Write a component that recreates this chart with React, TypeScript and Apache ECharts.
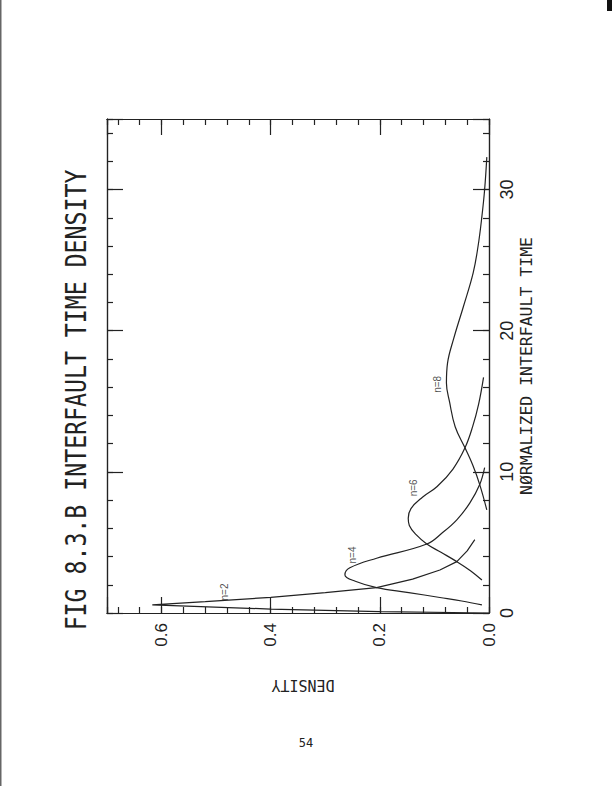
import React, { useEffect, useRef } from "react";
import * as echarts from "echarts";

// ---- data: [density, normalized interfault time] ----
const n2Time = [0, 0.1, 0.28, 0.57, 0.8, 1.11, 1.45, 1.8, 2.4, 3.05, 3.64, 4.4, 5.2];
const n2Dens = [0.0, 0.2, 0.4, 0.617, 0.52, 0.4, 0.3, 0.206, 0.14, 0.09, 0.059, 0.04, 0.026];

const n4Time = [0.57, 0.85, 1.1, 1.45, 1.8, 2.25, 2.7, 3.2, 3.88, 4.89, 5.7, 6.6, 7.8, 9.1, 10.3];
const n4Dens = [0.013, 0.05, 0.09, 0.147, 0.206, 0.245, 0.264, 0.255, 0.206, 0.114, 0.085, 0.059, 0.035, 0.017, 0.008];

const n6Time = [2.34, 3.0, 3.64, 4.3, 4.89, 5.6, 6.2, 6.71, 7.4, 8.2, 8.96, 10.2, 11.7, 13.2, 14.8, 16.7];
const n6Dens = [0.013, 0.034, 0.059, 0.088, 0.114, 0.135, 0.146, 0.148, 0.143, 0.122, 0.095, 0.066, 0.044, 0.03, 0.019, 0.01];

const n8Time = [7.3, 9.1, 10.5, 11.7, 13.2, 14.9, 16.3, 17.7, 19.4, 21.7, 24.1, 26.0, 28.1, 30.0, 32.3];
const n8Dens = [0.004, 0.017, 0.03, 0.044, 0.062, 0.072, 0.078, 0.076, 0.065, 0.047, 0.029, 0.02, 0.013, 0.008, 0.004];

const curveNames = ["n=2", "n=4", "n=6", "n=8"];
const labelDens = [0.484, 0.251, 0.139, 0.095];
const labelTime = [1.49, 4.11, 8.87, 16.2];

const densityTicks = [0, 0.2, 0.4, 0.6];
const timeTicks = [0, 10, 20, 30];

const DENS_MAX = 0.7;
const TIME_MAX = 35;

const INK = "#222";
const MONO = "'DejaVu Sans Mono', monospace";
const SANS = "'Liberation Sans', Arial, sans-serif";

function pairs(d: number[], t: number[]) {
  return t.map((tv, i) => [d[i], tv]);
}

const isOn = (v: number, list: number[]) => list.some((x) => Math.abs(x - v) < 1e-6);

export default function App() {
  const ref = useRef<HTMLDivElement>(null);

  useEffect(() => {
    if (!ref.current) return;
    const chart = echarts.init(ref.current, undefined, { renderer: "svg" });

    const axisLine = { show: true, onZero: false, lineStyle: { color: INK, width: 1.2 } };
    const mkX = (pos: string, interval: number, len: number, labels: boolean) => ({
      type: "value",
      min: 0,
      max: DENS_MAX,
      inverse: true,
      position: pos,
      offset: 0,
      interval,
      axisLine,
      splitLine: { show: false },
      axisTick: { show: true, inside: true, length: len, lineStyle: { color: INK, width: 1.2 } },
      axisLabel: labels
        ? {
            show: true,
            rotate: 90,
            margin: 10,
            color: INK,
            fontFamily: SANS,
            fontSize: 17,
            formatter: (v: number) => (isOn(v, densityTicks) ? v.toFixed(1) : ""),
          }
        : { show: false },
    });
    const mkY = (pos: string, interval: number, len: number, labels: boolean) => ({
      type: "value",
      min: 0,
      max: TIME_MAX,
      position: pos,
      offset: 0,
      interval,
      axisLine,
      splitLine: { show: false },
      axisTick: { show: true, inside: true, length: len, lineStyle: { color: INK, width: 1.2 } },
      axisLabel: labels
        ? {
            show: true,
            rotate: 90,
            margin: 9,
            color: INK,
            fontFamily: SANS,
            fontSize: 18,
            formatter: (v: number) => (isOn(v, timeTicks) ? String(v) : ""),
          }
        : { show: false },
    });

    const lineSeries = (name: string, data: number[][], smooth: number | boolean) => ({
      type: "line",
      name,
      data,
      xAxisIndex: 0,
      yAxisIndex: 0,
      smooth,
      symbol: "none",
      lineStyle: { color: INK, width: 1.2 },
      z: 3,
    });

    chart.setOption({
      animation: false,
      backgroundColor: "#ffffff",
      grid: { left: 107, right: 123, top: 119, bottom: 178, containLabel: false, outerBoundsMode: "none" },
      xAxis: [
        mkX("bottom", 0.2, 16, true),
        mkX("bottom", 0.04, 6, false),
        mkX("top", 0.2, 16, false),
        mkX("top", 0.04, 6, false),
      ],
      yAxis: [
        mkY("right", 10, 16, true),
        mkY("right", 2, 6, false),
        mkY("left", 10, 16, false),
        mkY("left", 2, 6, false),
      ],
      series: [
        lineSeries("n=2", pairs(n2Dens, n2Time), false),
        lineSeries("n=4", pairs(n4Dens, n4Time), 0.4),
        lineSeries("n=6", pairs(n6Dens, n6Time), 0.4),
        lineSeries("n=8", pairs(n8Dens, n8Time), 0.4),
        {
          type: "scatter",
          xAxisIndex: 0,
          yAxisIndex: 0,
          symbolSize: 0,
          data: curveNames.map((nm, i) => ({ name: nm, value: [labelDens[i], labelTime[i]] })),
          label: {
            show: true,
            position: "inside",
            rotate: 90,
            formatter: (p: any) => p.name,
            color: INK,
            fontFamily: SANS,
            fontSize: 10,
          },
          silent: true,
        },
      ],
      graphic: [
        {
          type: "text",
          x: 76,
          y: 400,
          rotation: Math.PI / 2,
          scaleX: 0.8,
          style: {
            text: "FIG 8.3.B INTERFAULT TIME DENSITY",
            fill: INK,
            font: `29px ${MONO}`,
            align: "center",
            verticalAlign: "middle",
          },
        },
        {
          type: "text",
          x: 527,
          y: 366,
          rotation: Math.PI / 2,
          scaleX: 1.1,
          style: {
            text: "NØRMALIZED INTERFAULT TIME",
            fill: INK,
            font: `15px ${MONO}`,
            align: "center",
            verticalAlign: "middle",
          },
        },
        {
          type: "text",
          x: 303,
          y: 685,
          rotation: Math.PI,
          style: {
            text: "DENSITY",
            fill: INK,
            font: `15px ${MONO}`,
            align: "center",
            verticalAlign: "middle",
          },
        },
        {
          type: "text",
          x: 306,
          y: 743,
          style: {
            text: "54",
            fill: INK,
            font: `12px 'DejaVu Sans Mono', monospace`,
            align: "center",
            verticalAlign: "middle",
          },
        },
        // scan edge marks
        { type: "rect", shape: { x: 0, y: 0, width: 1.5, height: 786 }, style: { fill: "#666" }, silent: true },
        { type: "rect", shape: { x: 607, y: 0, width: 5, height: 11 }, style: { fill: "#111" }, silent: true },
      ],
    });

    return () => chart.dispose();
  }, []);

  return (
    <div
      ref={ref}
      style={{ position: "fixed", left: 0, top: 0, width: 612, height: 791, background: "#fff" }}
    />
  );
}
